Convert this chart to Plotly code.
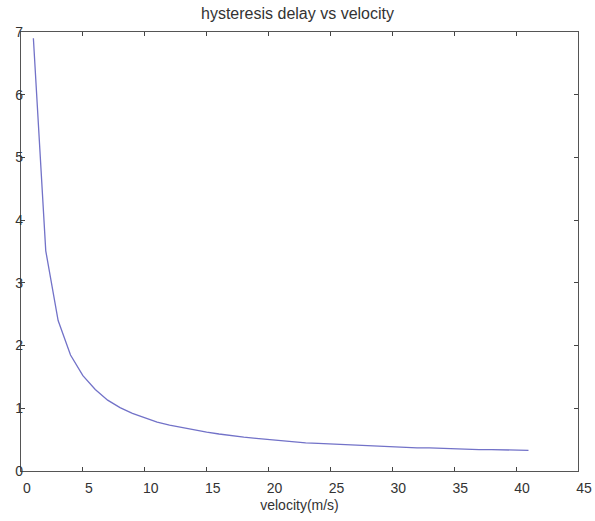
import plotly.graph_objects as go

velocity = list(range(1, 42))
delay = [6.90, 3.51, 2.40, 1.85, 1.52, 1.30, 1.13, 1.01, 0.92, 0.85,
         0.78, 0.73, 0.69, 0.65, 0.62, 0.59, 0.56, 0.54, 0.52, 0.50,
         0.48, 0.47, 0.45, 0.44, 0.43, 0.42, 0.41, 0.40, 0.39, 0.39,
         0.38, 0.37, 0.37, 0.36, 0.35, 0.35, 0.34, 0.34, 0.34, 0.33, 0.33]
x_ticks = [0, 5, 10, 15, 20, 25, 30, 35, 40, 45]
y_ticks = [0, 1, 2, 3, 4, 5, 6, 7]

fig = go.Figure(go.Scatter(x=velocity, y=delay, mode="lines",
                           line=dict(color="#7272c8", width=1.3)))

font = dict(family="Liberation Sans, Arial, sans-serif", size=14, color="#333333")
fig.update_layout(
    width=595, height=521,
    margin=dict(l=21, r=17, t=32, b=50),
    paper_bgcolor="white", plot_bgcolor="white",
    showlegend=False,
    font=font,
    title=dict(text="hysteresis delay vs velocity", x=0.5, xanchor="center",
               y=0.975, yanchor="middle",
               font=dict(size=16, color="#333333")),
)
fig.update_xaxes(range=[0, 45], tickvals=x_ticks, ticks="inside", ticklen=4,
                 tickcolor="#444", showline=True, linecolor="#555", linewidth=1.2,
                 mirror="ticks", showgrid=False, zeroline=False, automargin=False,
                 ticklabelshift=6, ticklabelstandoff=4,
                 title=dict(text="velocity(m/s)", standoff=5, font=dict(size=14)))
fig.update_yaxes(range=[0, 7], tickvals=y_ticks, ticks="inside", ticklen=4,
                 tickcolor="#444", showline=True, linecolor="#555", linewidth=1.2,
                 mirror="ticks", showgrid=False, zeroline=False, automargin=False,
                 ticklabelstandoff=-6)

fig.write_html("out.html",
               config={"displayModeBar": False},
               post_script="document.body.style.margin='0';"
                           "document.body.style.overflow='hidden';")
